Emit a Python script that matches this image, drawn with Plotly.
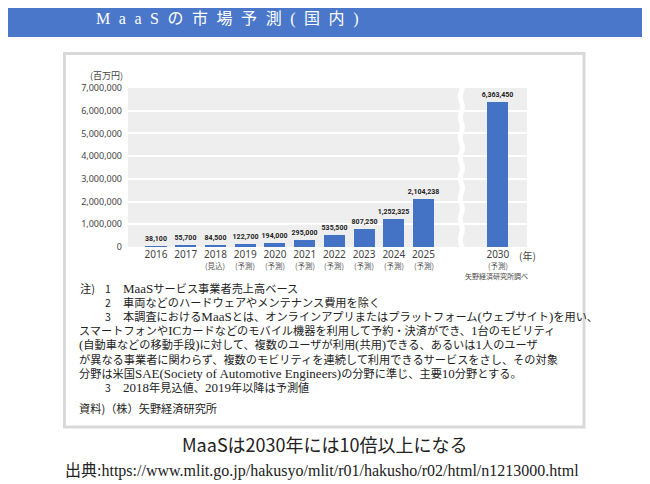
import re
import plotly.graph_objects as go

# ---------------- data ----------------
YEARS = ["2016", "2017", "2018", "2019", "2020", "2021", "2022", "2023", "2024", "2025", "2030"]
SUB_LABELS = ["", "", "(見込)", "(予測)", "(予測)", "(予測)", "(予測)", "(予測)", "(予測)", "(予測)", "(予測)"]
VALUES = [38100, 55700, 84500, 122700, 194000, 295000, 535500, 807250, 1252325, 2104238, 6363450]
Y_TICKS = [0, 1000000, 2000000, 3000000, 4000000, 5000000, 6000000, 7000000]

TITLE = "MaaSの市場予測(国内)"
UNIT = "(百万円)"
YEAR_UNIT = "(年)"
SURVEY = "矢野経済研究所調べ"
NOTE_HEAD = "注)"
NOTE_NUMS = ["1", "2", "3", "", "", "", "", "3"]
NOTE_LINES = [
    "MaaSサービス事業者売上高ベース",
    "車両などのハードウェアやメンテナンス費用を除く",
    "本調査におけるMaaSとは、オンラインアプリまたはプラットフォーム(ウェブサイト)を用い、",
    "スマートフォンやICカードなどのモバイル機器を利用して予約・決済ができ、1台のモビリティ",
    "(自動車などの移動手段)に対して、複数のユーザが利用(共用)できる、あるいは1人のユーザ",
    "が異なる事業者に関わらず、複数のモビリティを連続して利用できるサービスをさし、その対象",
    "分野は米国SAE(Society of Automotive Engineers)の分野に準じ、主要10分野とする。",
    "2018年見込値、2019年以降は予測値",
]
SOURCE_NOTE = "資料)（株）矢野経済研究所"
CAPTION = "MaaSは2030年には10倍以上になる"
URL = "出典:https://www.mlit.go.jp/hakusyo/mlit/r01/hakusho/r02/html/n1213000.html"

# ---------------- layout helpers ----------------
X_POS = [0, 1, 2, 3, 4, 5, 6, 7, 8, 9, 11.5]
BREAK_X = 10.27
OFF = 8                      # page margin around the figure
W, H = 650 - OFF, 484 - OFF
L, T = 128 - OFF, 88 - OFF
PW, PH = 399, 159
R, B = W - L - PW, H - T - PH


def px(x):
    return (x - OFF - L) / PW


def py(y):
    return (T + PH - (y - OFF)) / PH


def latin_wide(s, size=13):
    """render runs of Latin characters a bit larger (wide serif look)"""
    return re.sub(r"([\x21-\x7E][\x20-\x7E]*[\x21-\x7E]|[\x21-\x7E])",
                  lambda m: f"<span style='font-size:{size}px'>{m.group(1)}</span>", s)


JP = "Noto Sans CJK JP"
MIX = "Liberation Serif, Noto Sans CJK JP"
BAR_COLOR = "#4472C4"

fig = go.Figure()
fig.add_trace(go.Bar(
    x=X_POS, y=VALUES, width=0.71,
    marker=dict(color=BAR_COLOR, line=dict(width=0)),
    texttemplate="%{y:,.0f}", textposition="outside", cliponaxis=False, constraintext="none",
    textfont=dict(family="Roboto", size=7, color="#222", weight="bold"),
    hoverinfo="skip",
))

ann = []
spaced_title = "\u2004\u2009".join(list(TITLE))
ann.append(dict(text=spaced_title, x=px(95), y=py(19), xanchor="left", yanchor="middle",
                font=dict(family=MIX, size=16, color="white")))
ann.append(dict(text=UNIT, x=px(124), y=py(75), xanchor="right", yanchor="middle",
                font=dict(family=JP, size=9, color="#444")))
for xp, sub in zip(X_POS, SUB_LABELS):
    if sub:
        ann.append(dict(text=sub, x=xp, xref="x", y=py(265), yref="paper", xanchor="center",
                        yanchor="middle", font=dict(family=JP, size=7.5, color="#555")))
ann.append(dict(text=YEAR_UNIT, x=px(527), y=py(255), xanchor="center", yanchor="middle",
                font=dict(family=JP, size=10, color="#444")))
ann.append(dict(text=SURVEY, x=px(529), y=py(276), xanchor="right", yanchor="middle",
                font=dict(family=JP, size=7, color="#444")))

# notes
NOTE_SIZE = 11.2
line_y0, line_dy = 288, 14.2
ann.append(dict(text=NOTE_HEAD, x=px(79), y=py(line_y0), xanchor="left", yanchor="middle",
                font=dict(family=JP, size=NOTE_SIZE, color="#222")))
for i, (num, txt) in enumerate(zip(NOTE_NUMS, NOTE_LINES)):
    yy = line_y0 + i * line_dy
    if num:
        ann.append(dict(text=num, x=px(104), y=py(yy), xanchor="left", yanchor="middle",
                        font=dict(family=JP, size=10.5, color="#222")))
        ann.append(dict(text=latin_wide(txt), x=px(122), y=py(yy), xanchor="left", yanchor="middle",
                        font=dict(family=MIX, size=NOTE_SIZE, color="#222")))
    else:
        ann.append(dict(text=latin_wide(txt), x=px(78), y=py(yy), xanchor="left", yanchor="middle",
                        font=dict(family=MIX, size=NOTE_SIZE, color="#222")))
ann.append(dict(text=SOURCE_NOTE, x=px(78), y=py(408), xanchor="left", yanchor="middle",
                font=dict(family=JP, size=NOTE_SIZE, color="#222")))
ann.append(dict(text=CAPTION, x=px(325), y=py(444), xanchor="center", yanchor="middle",
                font=dict(family=JP, size=18, color="#222")))
ann.append(dict(text=URL, x=px(322), y=py(471), xanchor="center", yanchor="middle",
                font=dict(family=MIX, size=16, color="#222")))
for a in ann:
    a.setdefault("xref", "paper")
    a.setdefault("yref", "paper")
    a["showarrow"] = False
    a["borderpad"] = 0

shapes = [
    dict(type="rect", xref="paper", yref="paper", x0=px(0), x1=px(650), y0=py(37), y1=py(0),
         fillcolor="#4A77C9", line=dict(width=0), layer="below"),
    dict(type="rect", xref="paper", yref="paper", x0=px(64.5), x1=px(584), y0=py(427), y1=py(53.5),
         fillcolor="rgba(0,0,0,0)", line=dict(color="#D9D9D9", width=3), layer="below"),
]
amp, step = 0.07, 450000
path = f"M {BREAK_X},{7300000}"
yc = 7300000
k = 0
while yc > -300000:
    side = amp if k % 2 == 0 else -amp
    path += f" Q {BREAK_X + side},{yc - step / 2} {BREAK_X},{yc - step}"
    yc -= step
    k += 1
shapes.append(dict(type="path", xref="x", yref="y", path=path,
                   line=dict(color="white", width=5), layer="above"))

fig.update_layout(
    width=W, height=H,
    margin=dict(l=L, r=R, t=T, b=B),
    paper_bgcolor="white", plot_bgcolor="#EEEEEE",
    font=dict(family=JP, color="#333"),
    showlegend=False, bargap=0,
    xaxis=dict(range=[-0.943, 12.48], tickmode="array", tickvals=X_POS, ticktext=YEARS,
               showgrid=False, zeroline=False, showline=False, ticks="",
               tickfont=dict(family="Noto Sans", size=10, color="#444"), fixedrange=True),
    yaxis=dict(range=[0, 7000000], tickmode="array", tickvals=Y_TICKS,
               ticktext=[f"{v:,}" for v in Y_TICKS],
               showgrid=True, gridcolor="white", gridwidth=2, zeroline=False, showline=False,
               ticks="", ticklabelstandoff=5,
               tickfont=dict(family="Noto Sans", size=9, color="#444"), fixedrange=True),
    annotations=ann, shapes=shapes,
)

fig.write_html("out.html")
